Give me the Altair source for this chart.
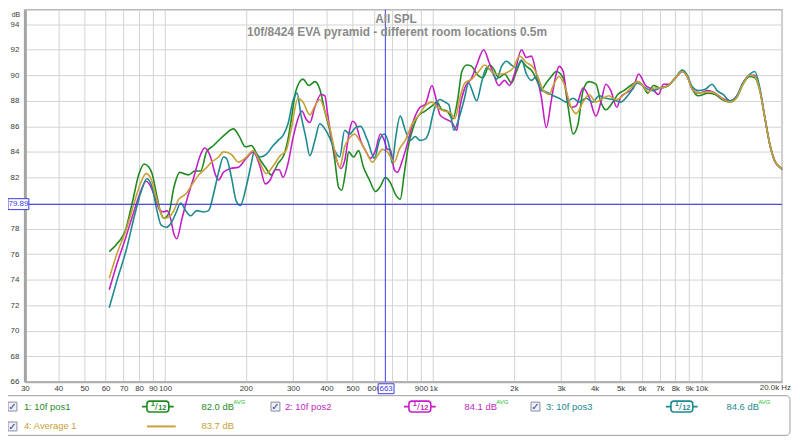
import altair as alt
import pandas as pd

# ---------------- data ----------------
SERIES = ["1: 10f pos1", "2: 10f pos2", "3: 10f pos3", "4: Average 1"]
COLORS = ["#1f8a1f", "#c41fc4", "#1c8a8e", "#c9a035"]
AVG_TEXT = ["82.0 dB", "84.1 dB", "84.6 dB", "83.7 dB"]

pos1_hz = [61.9, 67.4, 71.0, 75.4, 80.0, 83.5, 87.1, 89.4, 93.3, 96.5, 99.0, 103.3, 107.8, 113.5, 117.4,
           122.5, 129.0, 135.7, 142.8, 151.6, 167.9, 179.8, 189.3, 199.3, 209.7, 222.6, 238.3, 248.7, 264.0,
           277.9, 287.5, 294.9, 307.8, 326.7, 343.8, 361.9, 377.7, 394.2, 414.8, 429.2, 444.1, 455.6, 471.4,
           483.6, 504.7, 526.7, 549.6, 578.5, 608.8, 635.4, 663.0, 691.9, 722.1, 753.5, 779.7, 806.8, 841.9,
           878.6, 932.7, 990, 1033, 1078, 1125, 1184, 1236, 1279, 1334, 1392, 1453, 1530, 1624, 1680, 1754,
           1845, 1959, 2044, 2134, 2226, 2343, 2446, 2530, 2640, 2755, 2875, 3053, 3185, 3324, 3469, 3620,
           3811, 4044, 4221, 4404, 4675, 4880, 5136, 5451, 5787, 6039, 6302, 6633, 7041, 7538, 8002, 8494,
           8864, 9250, 9737, 10603, 11255, 11948, 12792, 13579, 14292, 15172, 15833, 16523, 17243, 17995,
           18779, 19597, 20000]
pos1_db = [76.2, 77.0, 77.8, 80.0, 82.3, 83.05, 82.8, 82.3, 80.5, 79.2, 78.8, 79.2, 81.2, 82.4, 82.3,
           82.2, 82.5, 82.5, 84.0, 84.5, 85.4, 85.8, 85.2, 84.4, 84.5, 83.6, 82.7, 82.2, 83.1,
           83.8, 85.0, 86.4, 88.8, 89.7, 89.2, 89.5, 88.9, 87.2, 85.3, 83.4, 81.2, 81.0, 82.5,
           84.0, 83.6, 84.1, 82.8, 81.8, 80.9, 81.3, 82.0, 81.6, 80.7, 80.3, 82.3, 84.4, 85.9,
           86.8, 87.2, 87.6, 87.9, 87.3, 87.2, 86.6, 88.2, 90.3, 90.8, 90.7, 90.1, 89.8, 90.8, 90.5, 89.8,
           90.1, 89.4, 90.3, 91.1, 90.7, 90.3, 89.5, 88.9, 89.4, 89.9, 90.3, 89.8, 87.5, 85.4, 86.2, 88.8,
           89.5, 89.3, 87.9, 87.3, 87.9, 88.5, 88.8, 89.2, 89.5, 89.2, 88.6, 89.2, 89.0, 89.2, 89.8, 90.3,
           89.9, 88.9, 88.4, 88.6, 88.5, 88.1, 87.9, 88.3, 89.3, 89.9, 89.8, 88.8, 86.7, 84.6,
           83.3, 82.8, 82.7]

pos2_hz = [61.9, 66.3, 71.6, 76.7, 81.4, 84.9, 88.6, 92.5, 95.7, 99.0, 101.6, 105.1, 107.8, 110.6, 115.4,
           120.4, 127.9, 135.7, 140.4, 147.8, 154.2, 158.3, 165.1, 175.3, 187.7, 200.9, 213.3, 226.4, 236.3,
           246.6, 257.4, 266.3, 275.5, 287.5, 300, 313.1, 323.9, 335.1, 346.8, 361.9, 381.0, 394.2, 404.3,
           414.8, 432.9, 451.7, 467.4, 487.7, 500.4, 513.4, 535.7, 559.1, 583.4, 608.8, 635.4, 657.4, 674.4,
           691.9, 715.9, 734.5, 766.5, 799.9, 849.1, 893.7, 932.7, 990, 1015.5, 1059.8, 1106, 1174, 1225,
           1257, 1311, 1392, 1453, 1543, 1610, 1680, 1754, 1845, 1926, 2009, 2134, 2226, 2323, 2425, 2530,
           2640, 2755, 2875, 2950, 3053, 3131, 3268, 3410, 3620, 3811, 4044, 4221, 4404, 4596, 4838, 5006,
           5224, 5545, 5837, 6195, 6576, 6922, 7223, 7538, 8002, 8494, 8864, 9250, 9737, 10603, 11255,
           11948, 12792, 13579, 14292, 15172, 15833, 16523, 17243, 17995, 18779, 19597, 20000]
pos2_db = [73.2, 75.3, 77.4, 79.4, 81.0, 81.7, 81.25, 80.2, 79.4, 79.3, 79.4, 78.7, 77.6, 77.2, 78.7,
           80.2, 82.0, 83.8, 84.3, 83.6, 82.2, 81.8, 82.4, 82.7, 82.8, 83.5, 84.0, 82.8, 81.5,
           81.8, 82.6, 82.6, 82.0, 83.1, 85.1, 86.6, 87.2, 86.6, 86.3, 87.5, 88.5, 88.4, 86.9,
           85.4, 83.6, 82.7, 83.3, 85.7, 86.4, 86.2, 84.9, 84.1, 83.5, 84.1, 85.4, 84.9, 84.2,
           84.2, 82.6, 82.4, 83.3, 84.6, 86.6, 87.5, 87.7, 89.2, 88.5, 86.9, 86.6, 86.3, 85.7,
           87.5, 89.0, 89.8, 90.8, 92.0, 91.1, 90.1, 89.2, 89.6, 89.2, 90.1, 92.0, 91.4, 91.5, 90.1, 88.3,
           85.9, 88.0, 90.1, 90.7, 90.3, 88.8, 87.5, 87.6, 89.0, 88.3, 86.8, 87.9, 89.3, 88.8, 87.5, 88.3,
           88.6, 88.9, 90.1, 89.2, 88.9, 88.5, 89.3, 89.3, 89.8, 90.3, 89.9, 88.9, 88.6, 88.8, 88.6,
           88.2, 88.0, 88.4, 89.4, 90.0, 90.0, 88.9, 86.7, 84.6, 83.3, 82.8, 82.7]

pos3_hz = [61.9, 66.3, 71.6, 76.7, 81.4, 85.6, 89.4, 93.3, 96.5, 100.7, 105.1, 109.7, 114.4, 119.4, 124.6,
           131.1, 139.2, 145.3, 151.6, 158.3, 165.1, 169.4, 176.8, 184.5, 190.9, 199.3, 204.4, 209.7, 215.1,
           226.4, 238.3, 253.0, 264.0, 275.5, 287.5, 300, 310.4, 321.2, 335.1, 346.8, 361.9, 377.7, 394.2,
           411.3, 429.2, 447.9, 467.4, 487.7, 513.4, 535.7, 568.7, 603.6, 630.0, 657.4, 686.0, 703.8, 722.1,
           753.5, 786.4, 820.6, 856.4, 893.7, 932.7, 965.0, 998.5, 1033, 1059.8, 1106, 1144, 1194, 1246,
           1301, 1357, 1392, 1453, 1517, 1583, 1652, 1724, 1799, 1877, 1959, 2044, 2134, 2226, 2323, 2425,
           2530, 2640, 2802, 2950, 3131, 3324, 3499, 3714, 3943, 4150, 4404, 4675, 5006, 5359, 5787, 6195,
           6576, 7041, 7538, 8002, 8494, 8864, 9250, 9737, 10335, 10971, 11449, 12051, 12792, 13579, 14292,
           15172, 15833, 16523, 17243, 17995, 18779, 19597, 20000]
pos3_db = [71.8, 74.0, 76.3, 78.9, 80.9, 81.9, 81.25, 79.4, 78.3, 78.1, 78.4, 79.2, 80.0, 79.4, 79.0,
           79.4, 79.3, 79.4, 80.7, 82.4, 83.6, 83.5, 82.0, 80.1, 79.8, 81.0, 82.0, 83.1, 84.0,
           83.6, 83.8, 84.5, 84.9, 85.3, 86.2, 88.0, 88.6, 86.9, 85.1, 83.7, 84.9, 86.2, 85.8,
           85.1, 84.1, 83.6, 85.7, 85.4, 85.9, 86.0, 84.9, 83.5, 84.9, 85.4, 84.4, 83.1, 84.9,
           86.8, 85.7, 84.9, 85.2, 84.9, 85.0, 85.6, 87.0, 87.9, 88.1, 87.9, 87.7, 85.7, 86.6,
           88.0, 89.4, 88.9, 88.0, 89.5, 90.6, 90.3, 89.7, 90.7, 91.1, 90.8, 90.6, 91.2, 90.1, 89.6, 89.9,
           88.8, 88.7, 88.4, 88.2, 87.9, 88.2, 87.9, 88.2, 87.9, 88.4, 88.2, 88.1, 87.9, 88.5, 89.4, 89.0,
           88.8, 89.0, 89.2, 89.8, 90.4, 90.0, 89.1, 88.8, 88.9, 89.3, 88.8, 88.5, 88.0, 88.4, 89.4,
           90.1, 90.3, 89.0, 86.7, 84.6, 83.3, 82.8, 82.6]

avg_hz = [61.9, 66.3, 71.6, 76.7, 81.4, 84.9, 88.6, 92.5, 96.5, 99.0, 103.3, 107.8, 112.5, 119.4, 125.7,
          133.4, 141.6, 149.0, 158.3, 165.1, 176.8, 187.7, 200.9, 213.3, 226.4, 238.3, 253.0, 268.5, 282.6,
          294.9, 313.1, 326.7, 346.8, 361.9, 377.7, 394.2, 411.3, 429.2, 447.9, 467.4, 487.7, 509.0, 531.2,
          559.1, 593.4, 619.3, 646.3, 674.4, 715.9, 747.1, 786.4, 834.7, 886.1, 932.7, 990, 1033, 1096.5,
          1154, 1204, 1257, 1311, 1392, 1478, 1556, 1624, 1695, 1799, 1877, 1993, 2098, 2226, 2363, 2467,
          2574, 2708, 2802, 2950, 3078, 3268, 3410, 3620, 3811, 4044, 4294, 4518, 4797, 5092, 5451, 5787,
          6090, 6356, 6633, 7041, 7538, 8002, 8494, 8864, 9250, 9737, 10603, 11255, 11948, 12792, 13579,
          14292, 15172, 15833, 16523, 17243, 17995, 18779, 19597, 20000]
avg_db = [74.1, 76.1, 77.9, 80.0, 81.65, 82.3, 81.9, 80.5, 79.2, 78.8, 78.9, 79.4, 80.3, 80.7, 81.4,
          82.2, 82.7, 83.2, 83.6, 84.0, 83.8, 83.2, 83.6, 84.1, 83.1, 82.3, 82.9, 83.7, 84.1,
          85.7, 88.2, 87.9, 86.9, 87.6, 88.1, 87.2, 85.9, 84.1, 82.8, 84.4, 85.1, 85.4, 84.9,
          84.1, 83.2, 83.7, 84.2, 84.0, 83.2, 84.2, 84.9, 86.2, 86.9, 87.6, 87.9, 87.5, 87.2,
          87.1, 86.6, 88.2, 89.4, 89.7, 90.3, 90.8, 90.5, 90.1, 90.1, 90.2, 90.6, 91.5, 91.0, 90.6, 89.8,
          88.8, 88.5, 89.2, 89.9, 89.3, 87.5, 87.0, 87.9, 88.5, 87.9, 88.2, 88.4, 88.1, 88.4, 89.0, 89.5,
          89.1, 88.7, 89.0, 89.0, 89.2, 89.8, 90.3, 89.9, 88.9, 88.6, 88.7, 88.6, 88.2, 87.9, 88.3,
          89.3, 90.0, 89.9, 88.8, 86.7, 84.6, 83.3, 82.8, 82.7]

X_GRID = [30, 40, 50, 60, 70, 80, 90, 100, 200, 300, 400, 500, 600, 700, 800, 900,
          1000, 2000, 3000, 4000, 5000, 6000, 7000, 8000, 9000, 10000, 20000]
Y_TICKS = [66, 68, 70, 72, 74, 76, 78, 80, 82, 84, 86, 88, 90, 92, 94]
CURSOR_HZ = 663
CURSOR_DB = 79.89
TITLE1 = "All SPL"
TITLE2 = "10f/8424 EVA pyramid - different room locations 0.5m"

# ---------------- build ----------------
frames = []
for name, hz, db in zip(SERIES, [pos1_hz, pos2_hz, pos3_hz, avg_hz], [pos1_db, pos2_db, pos3_db, avg_db]):
    frames.append(pd.DataFrame({"freq": hz, "spl": db, "series": name}))
df = pd.concat(frames, ignore_index=True)

FONT = "Liberation Sans"
BLUE = "#3b3bea"
GRID = "#d3d3d3"
LBL = "#3a3a3a"

x_scale = alt.Scale(type="log", domain=[30, 20000], nice=False)
y_scale = alt.Scale(domain=[66, 95.14], nice=False, zero=False)

# labels hidden by the cursor read-outs (700, 800) and by "20.0k Hz" drawn separately
x_axis = alt.Axis(
    values=X_GRID, title=None, grid=True, gridColor=GRID, gridWidth=1, ticks=False,
    domainColor="#b0b0b0", domainWidth=2, labelFont=FONT, labelFontSize=8, labelColor=LBL,
    labelPadding=3, labelOverlap=False, labelFlush=False,
    labelExpr="datum.value == 700 || datum.value == 800 || datum.value == 20000 ? '' : "
              "(datum.value >= 1000 ? format(datum.value / 1000, 'd') + 'k' : format(datum.value, 'd'))",
)
y_axis = alt.Axis(
    values=Y_TICKS, title=None, grid=True, gridColor=GRID, gridWidth=1, ticks=False,
    domainColor="#a4a4a4", domainWidth=3, labelFont=FONT, labelFontSize=8, labelColor=LBL,
    labelPadding=6, labelOverlap=False, labelFlush=False,
    labelExpr="datum.value == 80 ? '' : datum.label",
)

X_ENC = alt.X("freq:Q", scale=x_scale, axis=x_axis)
Y_ENC = alt.Y("spl:Q", scale=y_scale, axis=y_axis)

# axes (grid + labels) drawn once, from the line data, with an invisible mark
axes_layer = alt.Chart(df).mark_line(opacity=0).encode(x=X_ENC, y=Y_ENC)

lines = [
    alt.Chart(df).transform_filter(alt.datum.series == s).mark_line(
        color=c, strokeWidth=1.6, interpolate="monotone").encode(x=X_ENC, y=Y_ENC)
    for s, c in zip(SERIES, COLORS)
]

one = alt.Data(values=[{}])


def txt(x, y, s, color, size=9.0, align="left", weight="normal", baseline="middle", font=FONT):
    return alt.Chart(one).mark_text(
        text=s, color=color, fontSize=size, align=align, baseline=baseline,
        fontWeight=weight, font=font).encode(x=alt.value(x), y=alt.value(y))


def box(x, x2, y, y2, stroke, fill="white", radius=0, sw=1.0):
    return alt.Chart(one).mark_rect(
        fill=fill, stroke=stroke, strokeWidth=sw, cornerRadius=radius).encode(
        x=alt.value(x), x2=alt.value(x2), y=alt.value(y), y2=alt.value(y2))


def hline(x, x2, y, color, sw=1.5):
    return alt.Chart(one).mark_rule(color=color, strokeWidth=sw).encode(
        x=alt.value(x), x2=alt.value(x2), y=alt.value(y))


cursor_df = pd.DataFrame({"freq": [CURSOR_HZ], "spl": [CURSOR_DB]})
cursors = [
    alt.Chart(cursor_df).mark_rule(color=BLUE, strokeWidth=1).encode(x=X_ENC),
    alt.Chart(cursor_df).mark_rule(color=BLUE, strokeWidth=1).encode(y=Y_ENC),
]

titles = [
    txt(374, 9, TITLE1, "#8a8a8a", size=12, align="center", weight="bold"),
    txt(375, 23, TITLE2, "#8a8a8a", size=12, align="center", weight="bold"),
    txt(-9, 1, "dB", LBL, size=7, align="center", baseline="top"),
    txt(772, 381.5, "20.0k Hz", LBL, size=8, align="right"),
]

# legend panel
legend = [box(-23, 771, 389, 429, "#9c9c9c", radius=4, sw=1)]


def checkbox(cx, cy):
    return [box(cx - 4.5, cx + 4.5, cy - 4.5, cy + 4.5, "#8c8c9c", fill="#eef0f6", sw=1),
            txt(cx, cy + 0.5, "✓", "#2c4aa8", size=10, align="center", font="DejaVu Sans")]


def smooth_icon(x0, cy, color):
    return [hline(x0 - 5, x0 + 27, cy, color, 1.6),
            box(x0, x0 + 22, cy - 5.5, cy + 5.5, color, radius=3, sw=1.6),
            txt(x0 + 6, cy - 2.2, "1", color, size=7.5, align="center", weight="bold"),
            txt(x0 + 9.5, cy, "/", color, size=10, align="center"),
            txt(x0 + 15.5, cy + 1.8, "12", color, size=7.5, align="center", weight="bold")]


row1, row2 = 400, 420
col_check = [-12.5, 252.5, 514.5]
col_name = [-1, 262, 525]
col_icon = [123, 387, 651]
col_val = [178, 443, 707]
AVG_GREEN = "#2fbf2f"

for i in range(3):
    legend += checkbox(col_check[i], row1)
    legend.append(txt(col_name[i], row1, SERIES[i], COLORS[i], size=9.5))
    legend += smooth_icon(col_icon[i], row1, COLORS[i])
    legend.append(txt(col_val[i], row1, AVG_TEXT[i], COLORS[i], size=9.5))
    legend.append(txt(col_val[i] + 32, row1 - 4.5, "AVG", AVG_GREEN, size=6))

legend += checkbox(col_check[0], row2)
legend.append(txt(col_name[0], row2, SERIES[3], COLORS[3], size=9.5))
legend.append(hline(123, 152, row2, COLORS[3], 2))
legend.append(txt(col_val[0], row2, AVG_TEXT[3], COLORS[3], size=9.5))

cursor_boxes = [
    box(-17, 4, 190.5, 201.5, BLUE, sw=1),
    txt(-6.5, 196, format(CURSOR_DB, ".2f"), BLUE, size=8, align="center"),
    box(356, 372, 377, 387, BLUE, sw=1),
    txt(364, 382, str(CURSOR_HZ), BLUE, size=8, align="center"),
]

chart = alt.layer(axes_layer, *lines, *cursors, *titles, *legend, *cursor_boxes).properties(
    width=763, height=375,
    autosize=alt.AutoSizeParams(type="none"),
    padding={"left": 17, "top": 0, "right": 10, "bottom": 55},
    background="white",
).configure_view(stroke="#b8b8b8", strokeWidth=1.5)

chart.save("out.html", embed_options={"renderer": "svg", "actions": False})
